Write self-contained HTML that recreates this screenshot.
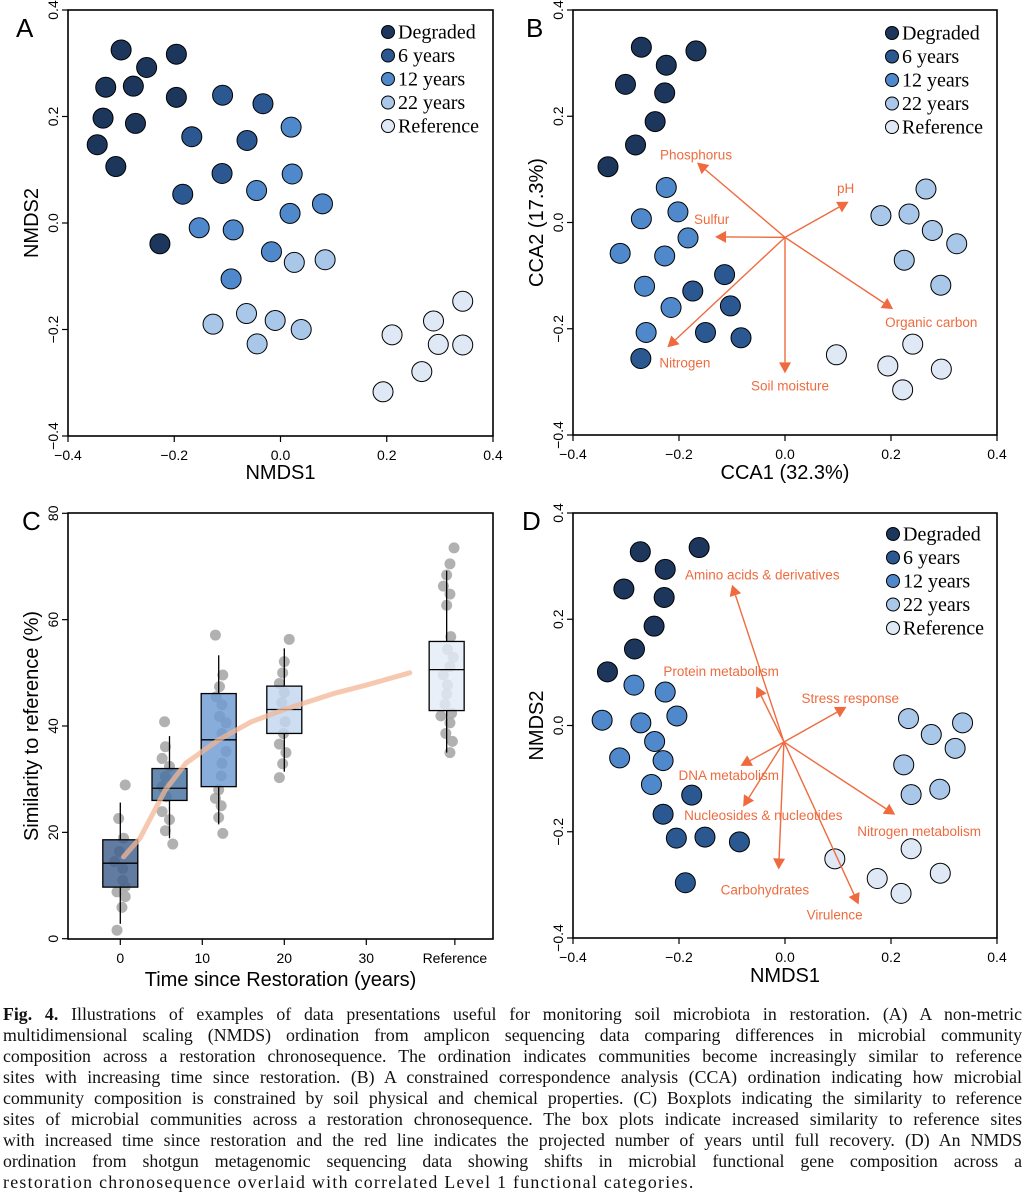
<!DOCTYPE html>
<html><head><meta charset="utf-8">
<style>
html,body{margin:0;padding:0;background:#fff;}
body{width:1025px;height:1200px;position:relative;overflow:hidden;}
svg{position:absolute;left:0;top:0;}
.cap{position:absolute;left:3px;width:1019px;font-family:"Liberation Serif",serif;font-size:17.8px;line-height:21px;white-space:nowrap;text-align:justify;text-align-last:justify;color:#111;}
.cap.last{text-align-last:left;letter-spacing:1.3px;}
</style></head>
<body>
<svg id="fig" width="1025" height="990"></svg>
<div>
<div class="cap" style="top:1004px"><b>Fig. 4.</b> Illustrations of examples of data presentations useful for monitoring soil microbiota in restoration. (A) A non-metric</div>
<div class="cap" style="top:1025px">multidimensional scaling (NMDS) ordination from amplicon sequencing data comparing differences in microbial community</div>
<div class="cap" style="top:1046px">composition across a restoration chronosequence. The ordination indicates communities become increasingly similar to reference</div>
<div class="cap" style="top:1067px">sites with increasing time since restoration. (B) A constrained correspondence analysis (CCA) ordination indicating how microbial</div>
<div class="cap" style="top:1088px">community composition is constrained by soil physical and chemical properties. (C) Boxplots indicating the similarity to reference</div>
<div class="cap" style="top:1109px">sites of microbial communities across a restoration chronosequence. The box plots indicate increased similarity to reference sites</div>
<div class="cap" style="top:1130px">with increased time since restoration and the red line indicates the projected number of years until full recovery. (D) An NMDS</div>
<div class="cap" style="top:1151px">ordination from shotgun metagenomic sequencing data showing shifts in microbial functional gene composition across a</div>
<div class="cap last" style="top:1172px">restoration chronosequence overlaid with correlated Level 1 functional categories.</div>
</div>
<script>
// ---------- Panel A data (NMDS) ----------
const aDegX=[-0.300,-0.196,-0.252,-0.329,-0.277,-0.196,-0.334,-0.273,-0.345,-0.310,-0.227];
const aDegY=[0.325,0.317,0.292,0.255,0.257,0.236,0.197,0.187,0.147,0.106,-0.039];
const a6X=[-0.109,-0.033,-0.167,-0.063,-0.110,-0.184];
const a6Y=[0.240,0.224,0.162,0.155,0.093,0.054];
const a12X=[0.020,0.022,-0.045,0.079,0.018,-0.153,-0.089,-0.017,-0.093];
const a12Y=[0.180,0.092,0.061,0.036,0.018,-0.009,-0.013,-0.054,-0.105];
const a22X=[0.026,0.084,-0.127,-0.064,-0.010,0.039,-0.044];
const a22Y=[-0.074,-0.069,-0.190,-0.170,-0.183,-0.200,-0.227];
const aRefX=[0.343,0.288,0.210,0.297,0.343,0.266,0.193];
const aRefY=[-0.147,-0.184,-0.210,-0.228,-0.229,-0.279,-0.317];
// ---------- Panel B data (CCA) ----------
const bDegX=[-0.271,-0.168,-0.224,-0.301,-0.227,-0.245,-0.282,-0.334];
const bDegY=[0.330,0.323,0.296,0.260,0.244,0.190,0.146,0.105];
const b6X=[-0.114,-0.174,-0.103,-0.150,-0.083,-0.272];
const b6Y=[-0.098,-0.129,-0.157,-0.207,-0.217,-0.256];
const b12X=[-0.224,-0.202,-0.271,-0.183,-0.311,-0.227,-0.265,-0.215,-0.262];
const b12Y=[0.066,0.020,0.007,-0.029,-0.058,-0.063,-0.120,-0.160,-0.207];
const b22X=[0.266,0.181,0.234,0.278,0.324,0.225,0.294];
const b22Y=[0.063,0.013,0.016,-0.015,-0.040,-0.071,-0.118];
const bRefX=[0.097,0.241,0.194,0.295,0.222];
const bRefY=[-0.249,-0.229,-0.270,-0.276,-0.315];
const bVecNames=["Phosphorus","pH","Sulfur","Organic carbon","Nitrogen","Soil moisture"];
const bVecX=[-0.166,0.120,-0.132,0.204,-0.222,0.000];
const bVecY=[0.113,0.039,-0.027,-0.163,-0.235,-0.284];
const bOrigin=[0,-0.028];
// ---------- Panel C data (boxplots) ----------
const cGroups=["0","6","12","20","Reference"];
const cPos=[0,6,12,20,39.8];
const cQ1=[9.7,26.0,28.6,38.6,42.9];
const cMed=[14.2,28.3,37.4,43.1,50.6];
const cQ3=[18.6,32.0,46.1,47.5,55.9];
const cLo=[2.8,18.9,21.5,31.4,35.0];
const cHi=[25.6,38.1,53.3,54.6,69.2];
const cDots0=[28.9,22.6,18.9,16.4,14.5,13.2,11.0,9.8,8.8,7.9,5.9,1.6];
const cJit0=[0.6,-0.2,0.4,-0.1,-0.7,0.3,0.3,0.6,-0.4,0.6,0.2,-0.4];
const cDots6=[40.8,36.1,33.9,32.4,30.5,28.6,26.7,23.9,22.4,20.3,17.8];
const cJit6=[-0.6,-0.5,-0.9,0,-0.5,-0.9,-0.4,-0.9,0,-0.5,0.4];
const cDots12=[57.1,49.6,47.4,45.5,44.0,41.8,40.6,38.6,35.2,33.0,30.6,28.0,26.4,25.0,22.8,19.8];
const cJit12=[-0.4,0.5,0.1,-0.3,0.4,0.1,0.9,0.4,0.9,0.4,0.3,0,-0.4,0.3,0,0.5];
const cDots20=[56.3,52.1,50.0,48.0,46.3,44.4,40.8,38.6,36.6,35.0,32.9,30.3];
const cJit20=[0.6,0,-0.2,-0.6,0,-0.3,0.1,-0.1,-0.6,0.2,-0.2,-0.6];
const cDotsRef=[73.5,70.5,68.4,66.3,64.8,62.7,56.8,54.4,52.9,51.2,49.6,47.7,46.0,44.1,42.4,41.9,40.6,38.6,37.1,35.0];
const cJitRef=[0.9,0.4,0,-0.4,0.4,0,0.5,0.1,0.8,0.4,-0.4,0.1,0,-0.2,0.6,-0.7,0.4,-0.1,0.7,0.4];
const cCurveYears=[0.4,2.4,5.5,8,12,16,20,26,30,35.3];
const cCurveVals=[15.4,18.9,28.0,33.0,37.4,40.8,43.1,46.1,47.7,50.0];
const cXTicks=[0,10,20,30];
const cYTicks=[0,20,40,60,80];
// ---------- Panel D data (NMDS functional) ----------
const dDegX=[-0.273,-0.162,-0.226,-0.304,-0.228,-0.247,-0.284,-0.335];
const dDegY=[0.327,0.335,0.294,0.257,0.241,0.187,0.144,0.101];
const d6X=[-0.176,-0.230,-0.205,-0.151,-0.086,-0.188];
const d6Y=[-0.131,-0.167,-0.212,-0.210,-0.219,-0.296];
const d12X=[-0.285,-0.226,-0.345,-0.272,-0.204,-0.246,-0.312,-0.230,-0.252];
const d12Y=[0.076,0.063,0.010,0.005,0.018,-0.030,-0.061,-0.066,-0.111];
const d22X=[0.233,0.335,0.276,0.321,0.224,0.238,0.292];
const d22Y=[0.013,0.005,-0.017,-0.043,-0.074,-0.130,-0.120];
const dRefX=[0.094,0.238,0.174,0.293,0.219];
const dRefY=[-0.251,-0.232,-0.288,-0.278,-0.316];
const dVecNames=["Amino acids & derivatives","Protein metabolism","Stress response","DNA metabolism","Nucleosides & nucleotides","Nitrogen metabolism","Carbohydrates","Virulence"];
const dVecX=[-0.100,-0.054,0.116,-0.084,-0.079,0.208,-0.012,0.139];
const dVecY=[0.265,0.074,0.035,-0.076,-0.153,-0.168,-0.271,-0.337];
const dOrigin=[-0.002,-0.031];
const ordTicks=[-0.4,-0.2,0.0,0.2,0.4];
const legendLabels=["Degraded","6 years","12 years","22 years","Reference"];

const NS="http://www.w3.org/2000/svg";
const svg=document.getElementById('fig');
const COLORS=["#1c365c","#2c5891","#5089cb","#a9c7e9","#dfe9f6"];
const ORANGE="#ef6b3f";
function mk(tag,attrs,parent){const e=document.createElementNS(NS,tag);for(const k in attrs)e.setAttribute(k,attrs[k]);(parent||svg).appendChild(e);return e;}
function lin(d0,d1,p0,p1){return v=>p0+(v-d0)/(d1-d0)*(p1-p0);}
function fmt(v){const s=Math.abs(v).toFixed(1);return (v<0?"\u2212":"")+s;}

function panelLetter(t,x,y){const e=mk('text',{x:x,y:y,'font-family':'Liberation Sans,sans-serif','font-size':26});e.textContent=t;

}

function frame(box,id){const r=mk('rect',{x:box.x,y:box.y,width:box.w,height:box.h,fill:'none',stroke:'#000','stroke-width':1.6});

}

function axes(box,id,xs,ys,xt,yt,xlab,ylab,xfmt,yfmt,xlabY){
  const g=mk('g',{});
  
  
  xt.forEach(v=>{const x=xs(v);mk('line',{x1:x,x2:x,y1:box.y+box.h,y2:box.y+box.h+6,stroke:'#000','stroke-width':1.2},g);
    const t=mk('text',{x:x,y:box.y+box.h+24,'text-anchor':'middle','font-family':'Liberation Sans,sans-serif','font-size':14},g);t.textContent=xfmt(v);
    
    });
  yt.forEach(v=>{const y=ys(v);mk('line',{x1:box.x,x2:box.x-6,y1:y,y2:y,stroke:'#000','stroke-width':1.2},g);
    const tx=box.x-10;const t=mk('text',{x:tx,y:y,transform:`rotate(-90 ${tx} ${y})`,'text-anchor':'middle','font-family':'Liberation Sans,sans-serif','font-size':14},g);t.textContent=yfmt(v);
    
    });
  const xl=mk('text',{x:box.x+box.w/2,y:xlabY,'text-anchor':'middle','font-family':'Liberation Sans,sans-serif','font-size':20},g);xl.textContent=xlab;
  
  
  const lx=box.x-30, ly=box.y+box.h/2;
  const yl=mk('text',{x:lx,y:ly,transform:`rotate(-90 ${lx} ${ly})`,'text-anchor':'middle','font-family':'Liberation Sans,sans-serif','font-size':20},g);yl.textContent=ylab;
  
  
}

function points(id,xs,ys,groupsX,groupsY){
  groupsX.forEach((gx,gi)=>{
    const g=mk('g',{});
    
    
    gx.forEach((v,i)=>{const c=mk('circle',{cx:xs(v),cy:ys(groupsY[gi][i]),r:10,fill:COLORS[gi],stroke:'#000','stroke-width':1},g);
      
      });
  });
}

function legend(id,x,y0,dy){
  const g=mk('g',{});
  
  
  legendLabels.forEach((l,i)=>{const y=y0+i*dy;
    mk('circle',{cx:x,cy:y,r:6.5,fill:COLORS[i],stroke:'#000','stroke-width':1},g);
    const t=mk('text',{x:x+10,y:y+6.5,'font-family':'Liberation Serif,serif','font-size':20},g);t.textContent=l;
    
    });
}

function arrows(id,xs,ys,origin,vx,vy,names,offs){
  const ox=xs(origin[0]),oy=ys(origin[1]);
  vx.forEach((v,i)=>{const tx=xs(v),ty=ys(vy[i]);
    const g=mk('g',{});
    
    
    const ang=Math.atan2(ty-oy,tx-ox),L=11,W=6;
    const bx=tx-L*Math.cos(ang),by=ty-L*Math.sin(ang);
    mk('line',{x1:ox,y1:oy,x2:bx,y2:by,stroke:ORANGE,'stroke-width':1.4},g);
    const px=-Math.sin(ang)*W,py=Math.cos(ang)*W;
    mk('polygon',{points:`${tx},${ty} ${bx+px},${by+py} ${bx-px},${by-py}`,fill:ORANGE},g);
    const t=mk('text',{x:tx+offs[i][0],y:ty+offs[i][1],'text-anchor':offs[i][2]||'start',fill:ORANGE,'font-family':'Liberation Sans,sans-serif','font-size':13.5},g);
    t.textContent=names[i];
    
    
  });
}

// Panel A
const boxA={x:68,y:10,w:425,h:426};
const xA=lin(-0.4,0.4,boxA.x,boxA.x+boxA.w), yA=lin(-0.4,0.4,boxA.y+boxA.h,boxA.y);
panelLetter("A",16,37);
axes(boxA,'panel-a',xA,yA,ordTicks,ordTicks,"NMDS1","NMDS2",fmt,fmt,479);
points('panel-a',xA,yA,[aDegX,a6X,a12X,a22X,aRefX],[aDegY,a6Y,a12Y,a22Y,aRefY]);
legend('panel-a',388,32,23.5);
frame(boxA,'panel-a');

// Panel B
const boxB={x:573,y:10,w:424,h:425};
const xB=lin(-0.4,0.4,boxB.x,boxB.x+boxB.w), yB=lin(-0.4,0.4,boxB.y+boxB.h,boxB.y);
panelLetter("B",526,37);
axes(boxB,'panel-b',xB,yB,ordTicks,ordTicks,"CCA1 (32.3%)","CCA2 (17.3%)",fmt,fmt,479);
points('panel-b',xB,yB,[bDegX,b6X,b12X,b22X,bRefX],[bDegY,b6Y,b12Y,b22Y,bRefY]);
arrows('panel-b',xB,yB,bOrigin,bVecX,bVecY,bVecNames,[[-37,-3],[-3,-9,'middle'],[-21,-13],[-8,18],[-8,20],[-34,17]]);
legend('panel-b',892,33,23.5);
frame(boxB,'panel-b');

// Panel D
const boxD={x:573,y:513,w:424,h:425};
const xD=lin(-0.4,0.4,boxD.x,boxD.x+boxD.w), yD=lin(-0.4,0.4,boxD.y+boxD.h,boxD.y);
panelLetter("D",522,530);
axes(boxD,'panel-d',xD,yD,ordTicks,ordTicks,"NMDS1","NMDS2",fmt,fmt,982);
points('panel-d',xD,yD,[dDegX,d6X,d12X,d22X,dRefX],[dDegY,d6Y,d12Y,d22Y,dRefY]);
arrows('panel-d',xD,yD,dOrigin,dVecX,dVecY,dVecNames,[[-47,-5],[-93,-10],[-45,-4],[-62,14],[-59,13],[-38,21],[-58,25],[-52,15]]);
legend('panel-d',893,534,23.5);
frame(boxD,'panel-d');

// Panel C
const boxC={x:68,y:513,w:425,h:426};
const xC=lin(0,30,120.3,366.3), yC=lin(0,80,938.7,513.3);
panelLetter("C",22,530);
const refTick=40.8;
axes(boxC,'panel-c',xC,yC,cXTicks.concat([refTick]),cYTicks,"Time since Restoration (years)","Similarity to reference (%)",v=>v===refTick?"Reference":String(v),v=>String(v),986);
const dotSets=[cDots0,cDots6,cDots12,cDots20,cDotsRef], jitSets=[cJit0,cJit6,cJit12,cJit20,cJitRef];
dotSets.forEach((ds,gi)=>{ds.forEach((v,i)=>{const c=mk('circle',{cx:xC(cPos[gi]+jitSets[gi][i]),cy:yC(v),r:5.5,fill:'#a3a3a3','fill-opacity':0.85});
  
  });});
const boxFill=["#3f5f8c","#46719f","#6f9bd3","#c2d7f0","#e4ecf7"];
cGroups.forEach((gname,gi)=>{
  const cx=xC(cPos[gi]),hw=17.5;
  const g=mk('g',{});
  
  
  mk('line',{x1:cx,x2:cx,y1:yC(cHi[gi]),y2:yC(cQ3[gi]),stroke:'#000','stroke-width':1.3},g);
  mk('line',{x1:cx,x2:cx,y1:yC(cQ1[gi]),y2:yC(cLo[gi]),stroke:'#000','stroke-width':1.3},g);
  mk('rect',{x:cx-hw,y:yC(cQ3[gi]),width:2*hw,height:yC(cQ1[gi])-yC(cQ3[gi]),fill:boxFill[gi],'fill-opacity':0.82,stroke:'#000','stroke-width':1.3},g);
  mk('line',{x1:cx-hw,x2:cx+hw,y1:yC(cMed[gi]),y2:yC(cMed[gi]),stroke:'#000','stroke-width':1.3},g);
});
let dpath="";cCurveYears.forEach((yr,i)=>{dpath+=(i?"L":"M")+xC(yr).toFixed(1)+","+yC(cCurveVals[i]).toFixed(1);});
const curve=mk('path',{d:dpath,fill:'none',stroke:'#f2b594','stroke-opacity':0.75,'stroke-width':5,'stroke-linecap':'round','stroke-linejoin':'round'});


frame(boxC,'panel-c');
</script>
</body></html>
